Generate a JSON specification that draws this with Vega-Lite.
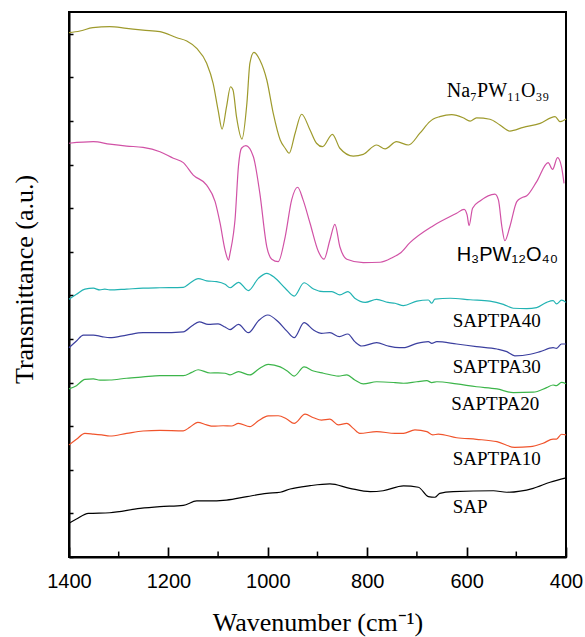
{
  "$schema": "https://vega.github.io/schema/vega-lite/v6.json",
  "width": 497,
  "height": 545,
  "autosize": {"type": "none"},
  "padding": {"left": 69, "top": 12, "right": 19, "bottom": 80},
  "background": "white",
  "config": {
    "view": {"stroke": "black", "strokeWidth": 2},
    "axis": {"domainColor": "black", "domainWidth": 2, "tickColor": "black", "grid": false, "labelColor": "black", "titleColor": "black", "titleFontWeight": "normal"}
  },
  "datasets": {
    "spectra": [
      {"s":"Na","w":1400,"v":24.05},{"s":"Na","w":1378,"v":24.13},{"s":"Na","w":1352,"v":24.28},{"s":"Na","w":1318,"v":24.33},{"s":"Na","w":1284,"v":24.25},{"s":"Na","w":1251,"v":24.17},{"s":"Na","w":1217,"v":24.10},{"s":"Na","w":1183,"v":23.82},{"s":"Na","w":1163,"v":23.67},{"s":"Na","w":1143,"v":23.33},{"s":"Na","w":1123,"v":22.65},{"s":"Na","w":1110,"v":21.73},{"s":"Na","w":1100,"v":20.50},{"s":"Na","w":1092,"v":19.63},{"s":"Na","w":1083,"v":20.66},{"s":"Na","w":1075,"v":21.57},{"s":"Na","w":1070,"v":21.42},{"s":"Na","w":1063,"v":20.20},{"s":"Na","w":1052,"v":19.17},{"s":"Na","w":1042,"v":20.83},{"s":"Na","w":1036,"v":22.65},{"s":"Na","w":1028,"v":23.15},{"s":"Na","w":1016,"v":22.80},{"s":"Na","w":1002,"v":21.88},{"s":"Na","w":989,"v":20.35},{"s":"Na","w":975,"v":19.13},{"s":"Na","w":965,"v":18.75},{"s":"Na","w":957,"v":18.52},{"s":"Na","w":945,"v":19.44},{"s":"Na","w":932,"v":20.31},{"s":"Na","w":915,"v":19.59},{"s":"Na","w":902,"v":18.98},{"s":"Na","w":890,"v":18.82},{"s":"Na","w":870,"v":19.39},{"s":"Na","w":855,"v":18.75},{"s":"Na","w":828,"v":18.39},{"s":"Na","w":808,"v":18.47},{"s":"Na","w":781,"v":18.90},{"s":"Na","w":764,"v":18.72},{"s":"Na","w":741,"v":19.05},{"s":"Na","w":717,"v":18.90},{"s":"Na","w":694,"v":19.44},{"s":"Na","w":674,"v":19.97},{"s":"Na","w":667,"v":20.09},{"s":"Na","w":654,"v":20.20},{"s":"Na","w":630,"v":20.29},{"s":"Na","w":607,"v":20.15},{"s":"Na","w":593,"v":19.99},{"s":"Na","w":580,"v":20.14},{"s":"Na","w":553,"v":20.08},{"s":"Na","w":533,"v":19.82},{"s":"Na","w":513,"v":19.54},{"s":"Na","w":486,"v":19.71},{"s":"Na","w":452,"v":19.89},{"s":"Na","w":422,"v":20.20},{"s":"Na","w":412,"v":19.97},{"s":"Na","w":400,"v":20.09},
      {"s":"H3","w":1400,"v":18.98},{"s":"H3","w":1351,"v":19.05},{"s":"H3","w":1318,"v":18.94},{"s":"H3","w":1284,"v":18.85},{"s":"H3","w":1251,"v":18.79},{"s":"H3","w":1217,"v":18.59},{"s":"H3","w":1190,"v":18.29},{"s":"H3","w":1170,"v":18.09},{"s":"H3","w":1150,"v":17.52},{"s":"H3","w":1123,"v":17.06},{"s":"H3","w":1106,"v":16.30},{"s":"H3","w":1096,"v":15.31},{"s":"H3","w":1086,"v":14.08},{"s":"H3","w":1079,"v":13.62},{"s":"H3","w":1076,"v":13.93},{"s":"H3","w":1069,"v":14.85},{"s":"H3","w":1066,"v":15.46},{"s":"H3","w":1059,"v":17.94},{"s":"H3","w":1053,"v":18.75},{"s":"H3","w":1044,"v":18.87},{"s":"H3","w":1029,"v":18.36},{"s":"H3","w":1016,"v":16.68},{"s":"H3","w":1002,"v":14.23},{"s":"H3","w":992,"v":13.66},{"s":"H3","w":979,"v":13.55},{"s":"H3","w":965,"v":14.69},{"s":"H3","w":952,"v":16.38},{"s":"H3","w":940,"v":16.96},{"s":"H3","w":929,"v":16.38},{"s":"H3","w":915,"v":15.31},{"s":"H3","w":898,"v":14.00},{"s":"H3","w":887,"v":13.66},{"s":"H3","w":875,"v":14.54},{"s":"H3","w":865,"v":15.26},{"s":"H3","w":855,"v":14.23},{"s":"H3","w":841,"v":13.66},{"s":"H3","w":808,"v":13.50},{"s":"H3","w":774,"v":13.52},{"s":"H3","w":748,"v":13.75},{"s":"H3","w":734,"v":13.93},{"s":"H3","w":714,"v":14.42},{"s":"H3","w":667,"v":15.20},{"s":"H3","w":620,"v":15.77},{"s":"H3","w":605,"v":15.95},{"s":"H3","w":599,"v":15.69},{"s":"H3","w":595,"v":15.20},{"s":"H3","w":588,"v":16.00},{"s":"H3","w":573,"v":16.33},{"s":"H3","w":543,"v":16.65},{"s":"H3","w":536,"v":16.38},{"s":"H3","w":529,"v":15.15},{"s":"H3","w":523,"v":14.51},{"s":"H3","w":513,"v":15.15},{"s":"H3","w":499,"v":16.30},{"s":"H3","w":489,"v":16.48},{"s":"H3","w":479,"v":16.57},{"s":"H3","w":459,"v":17.22},{"s":"H3","w":436,"v":18.09},{"s":"H3","w":427,"v":17.78},{"s":"H3","w":417,"v":18.32},{"s":"H3","w":409,"v":17.90},{"s":"H3","w":404,"v":17.14},
      {"s":"S40","w":1400,"v":11.82},{"s":"S40","w":1385,"v":12.05},{"s":"S40","w":1368,"v":12.29},{"s":"S40","w":1351,"v":12.33},{"s":"S40","w":1338,"v":12.25},{"s":"S40","w":1328,"v":12.29},{"s":"S40","w":1318,"v":12.25},{"s":"S40","w":1284,"v":12.29},{"s":"S40","w":1251,"v":12.33},{"s":"S40","w":1217,"v":12.35},{"s":"S40","w":1170,"v":12.37},{"s":"S40","w":1157,"v":12.56},{"s":"S40","w":1140,"v":12.77},{"s":"S40","w":1123,"v":12.67},{"s":"S40","w":1103,"v":12.63},{"s":"S40","w":1086,"v":12.51},{"s":"S40","w":1076,"v":12.35},{"s":"S40","w":1059,"v":12.60},{"s":"S40","w":1039,"v":12.22},{"s":"S40","w":1019,"v":12.78},{"s":"S40","w":1002,"v":13.01},{"s":"S40","w":986,"v":12.81},{"s":"S40","w":965,"v":12.33},{"s":"S40","w":947,"v":11.97},{"s":"S40","w":927,"v":12.58},{"s":"S40","w":908,"v":12.29},{"s":"S40","w":888,"v":12.17},{"s":"S40","w":871,"v":12.17},{"s":"S40","w":855,"v":12.02},{"s":"S40","w":839,"v":12.17},{"s":"S40","w":825,"v":11.87},{"s":"S40","w":804,"v":11.68},{"s":"S40","w":781,"v":11.82},{"s":"S40","w":758,"v":11.68},{"s":"S40","w":744,"v":11.64},{"s":"S40","w":727,"v":11.53},{"s":"S40","w":700,"v":11.74},{"s":"S40","w":677,"v":11.79},{"s":"S40","w":670,"v":11.64},{"s":"S40","w":664,"v":11.83},{"s":"S40","w":633,"v":11.87},{"s":"S40","w":593,"v":11.80},{"s":"S40","w":553,"v":11.74},{"s":"S40","w":526,"v":11.59},{"s":"S40","w":506,"v":11.41},{"s":"S40","w":479,"v":11.39},{"s":"S40","w":459,"v":11.44},{"s":"S40","w":439,"v":11.68},{"s":"S40","w":426,"v":11.76},{"s":"S40","w":419,"v":11.61},{"s":"S40","w":409,"v":11.78},{"s":"S40","w":400,"v":11.68},
      {"s":"S30","w":1400,"v":9.60},{"s":"S30","w":1385,"v":9.91},{"s":"S30","w":1371,"v":10.18},{"s":"S30","w":1351,"v":10.18},{"s":"S30","w":1334,"v":10.11},{"s":"S30","w":1318,"v":10.06},{"s":"S30","w":1284,"v":10.18},{"s":"S30","w":1251,"v":10.29},{"s":"S30","w":1217,"v":10.29},{"s":"S30","w":1170,"v":10.33},{"s":"S30","w":1153,"v":10.60},{"s":"S30","w":1138,"v":10.79},{"s":"S30","w":1120,"v":10.67},{"s":"S30","w":1100,"v":10.69},{"s":"S30","w":1086,"v":10.55},{"s":"S30","w":1076,"v":10.43},{"s":"S30","w":1059,"v":10.67},{"s":"S30","w":1039,"v":10.29},{"s":"S30","w":1019,"v":10.83},{"s":"S30","w":1000,"v":11.10},{"s":"S30","w":979,"v":10.79},{"s":"S30","w":962,"v":10.37},{"s":"S30","w":947,"v":10.06},{"s":"S30","w":927,"v":10.75},{"s":"S30","w":908,"v":10.41},{"s":"S30","w":892,"v":10.26},{"s":"S30","w":875,"v":10.29},{"s":"S30","w":856,"v":10.11},{"s":"S30","w":839,"v":10.23},{"s":"S30","w":825,"v":9.88},{"s":"S30","w":811,"v":9.68},{"s":"S30","w":781,"v":9.83},{"s":"S30","w":758,"v":9.68},{"s":"S30","w":744,"v":9.62},{"s":"S30","w":727,"v":9.60},{"s":"S30","w":700,"v":9.80},{"s":"S30","w":677,"v":9.88},{"s":"S30","w":670,"v":9.80},{"s":"S30","w":660,"v":9.88},{"s":"S30","w":620,"v":9.77},{"s":"S30","w":580,"v":9.65},{"s":"S30","w":539,"v":9.54},{"s":"S30","w":519,"v":9.42},{"s":"S30","w":503,"v":9.23},{"s":"S30","w":472,"v":9.30},{"s":"S30","w":452,"v":9.42},{"s":"S30","w":426,"v":9.60},{"s":"S30","w":419,"v":9.57},{"s":"S30","w":409,"v":9.77},{"s":"S30","w":400,"v":9.77},
      {"s":"S20","w":1400,"v":7.71},{"s":"S20","w":1385,"v":7.86},{"s":"S20","w":1368,"v":8.15},{"s":"S20","w":1351,"v":8.17},{"s":"S20","w":1338,"v":8.11},{"s":"S20","w":1318,"v":8.12},{"s":"S20","w":1284,"v":8.20},{"s":"S20","w":1251,"v":8.26},{"s":"S20","w":1217,"v":8.32},{"s":"S20","w":1170,"v":8.32},{"s":"S20","w":1153,"v":8.47},{"s":"S20","w":1140,"v":8.59},{"s":"S20","w":1116,"v":8.44},{"s":"S20","w":1100,"v":8.45},{"s":"S20","w":1086,"v":8.43},{"s":"S20","w":1076,"v":8.35},{"s":"S20","w":1059,"v":8.50},{"s":"S20","w":1036,"v":8.35},{"s":"S20","w":1019,"v":8.61},{"s":"S20","w":999,"v":8.84},{"s":"S20","w":975,"v":8.72},{"s":"S20","w":959,"v":8.50},{"s":"S20","w":947,"v":8.30},{"s":"S20","w":927,"v":8.72},{"s":"S20","w":908,"v":8.53},{"s":"S20","w":888,"v":8.43},{"s":"S20","w":858,"v":8.30},{"s":"S20","w":841,"v":8.35},{"s":"S20","w":825,"v":8.12},{"s":"S20","w":808,"v":7.94},{"s":"S20","w":781,"v":8.04},{"s":"S20","w":744,"v":8.00},{"s":"S20","w":727,"v":7.97},{"s":"S20","w":700,"v":8.04},{"s":"S20","w":680,"v":8.09},{"s":"S20","w":670,"v":8.00},{"s":"S20","w":660,"v":8.04},{"s":"S20","w":620,"v":7.94},{"s":"S20","w":580,"v":7.81},{"s":"S20","w":539,"v":7.71},{"s":"S20","w":506,"v":7.54},{"s":"S20","w":466,"v":7.56},{"s":"S20","w":439,"v":7.77},{"s":"S20","w":426,"v":7.89},{"s":"S20","w":419,"v":7.86},{"s":"S20","w":409,"v":8.01},{"s":"S20","w":400,"v":7.95},
      {"s":"S10","w":1400,"v":5.14},{"s":"S10","w":1385,"v":5.40},{"s":"S10","w":1368,"v":5.67},{"s":"S10","w":1351,"v":5.64},{"s":"S10","w":1334,"v":5.60},{"s":"S10","w":1318,"v":5.55},{"s":"S10","w":1284,"v":5.67},{"s":"S10","w":1251,"v":5.78},{"s":"S10","w":1217,"v":5.81},{"s":"S10","w":1170,"v":5.79},{"s":"S10","w":1157,"v":5.95},{"s":"S10","w":1141,"v":6.18},{"s":"S10","w":1123,"v":6.06},{"s":"S10","w":1110,"v":6.00},{"s":"S10","w":1090,"v":6.02},{"s":"S10","w":1073,"v":6.01},{"s":"S10","w":1059,"v":6.13},{"s":"S10","w":1036,"v":5.98},{"s":"S10","w":1019,"v":6.25},{"s":"S10","w":999,"v":6.47},{"s":"S10","w":979,"v":6.48},{"s":"S10","w":962,"v":6.33},{"s":"S10","w":947,"v":6.13},{"s":"S10","w":925,"v":6.55},{"s":"S10","w":908,"v":6.39},{"s":"S10","w":892,"v":6.28},{"s":"S10","w":875,"v":6.32},{"s":"S10","w":858,"v":6.06},{"s":"S10","w":841,"v":6.13},{"s":"S10","w":828,"v":5.90},{"s":"S10","w":815,"v":5.67},{"s":"S10","w":781,"v":5.75},{"s":"S10","w":744,"v":5.67},{"s":"S10","w":727,"v":5.67},{"s":"S10","w":704,"v":5.83},{"s":"S10","w":680,"v":5.75},{"s":"S10","w":668,"v":5.60},{"s":"S10","w":657,"v":5.64},{"s":"S10","w":620,"v":5.47},{"s":"S10","w":580,"v":5.40},{"s":"S10","w":539,"v":5.29},{"s":"S10","w":503,"v":5.03},{"s":"S10","w":472,"v":5.06},{"s":"S10","w":446,"v":5.22},{"s":"S10","w":426,"v":5.41},{"s":"S10","w":419,"v":5.41},{"s":"S10","w":409,"v":5.63},{"s":"S10","w":400,"v":5.60},
      {"s":"SAP","w":1400,"v":1.55},{"s":"SAP","w":1385,"v":1.74},{"s":"SAP","w":1361,"v":2.00},{"s":"SAP","w":1318,"v":2.03},{"s":"SAP","w":1257,"v":2.23},{"s":"SAP","w":1217,"v":2.31},{"s":"SAP","w":1170,"v":2.37},{"s":"SAP","w":1143,"v":2.57},{"s":"SAP","w":1123,"v":2.57},{"s":"SAP","w":1083,"v":2.61},{"s":"SAP","w":1042,"v":2.77},{"s":"SAP","w":1002,"v":2.92},{"s":"SAP","w":975,"v":2.97},{"s":"SAP","w":955,"v":3.12},{"s":"SAP","w":915,"v":3.27},{"s":"SAP","w":875,"v":3.35},{"s":"SAP","w":835,"v":3.15},{"s":"SAP","w":794,"v":3.00},{"s":"SAP","w":768,"v":3.04},{"s":"SAP","w":727,"v":3.26},{"s":"SAP","w":697,"v":3.20},{"s":"SAP","w":677,"v":2.77},{"s":"SAP","w":664,"v":2.74},{"s":"SAP","w":654,"v":2.92},{"s":"SAP","w":627,"v":3.00},{"s":"SAP","w":546,"v":3.04},{"s":"SAP","w":519,"v":2.97},{"s":"SAP","w":466,"v":3.15},{"s":"SAP","w":432,"v":3.43},{"s":"SAP","w":400,"v":3.63}
    ],
    "labels": [
      {"label":"Na₇PW₁₁O₃₉","w":640,"v":21.09},
      {"label":"H₃PW₁₂O₄₀","w":620,"v":13.59},
      {"label":"SAPTPA40","w":628,"v":10.55},
      {"label":"SAPTPA30","w":628,"v":8.44},
      {"label":"SAPTPA20","w":631,"v":6.74},
      {"label":"SAPTPA10","w":628,"v":4.22},
      {"label":"SAP","w":628,"v":2.02}
    ],
    "minorTicks": [{"w":1300},{"w":1100},{"w":900},{"w":700},{"w":500}]
  },
  "layer": [
    {
      "data": {"name": "spectra"},
      "mark": {"type": "line", "strokeWidth": 1.2, "interpolate": "monotone"},
      "encoding": {
        "x": {
          "field": "w", "type": "quantitative",
          "scale": {"domain": [400, 1400], "reverse": true, "nice": false, "zero": false},
          "axis": {
            "values": [1400, 1200, 1000, 800, 600, 400],
            "format": "d",
            "tickSize": -10,
            "tickWidth": 1.7,
            "labelFont": "Liberation Sans", "labelFontSize": 20, "labelPadding": 24,
            "labelOverlap": false, "labelFlush": false,
            "title": "Wavenumber (cm⁻¹)", "titleFont": "Liberation Serif", "titleFontSize": 26,
            "titleBaseline": "alphabetic", "titleY": 73
          }
        },
        "y": {
          "field": "v", "type": "quantitative",
          "scale": {"domain": [0, 25], "nice": false, "zero": false},
          "axis": {
            "values": [0,1,2,3,4,5,6,7,8,9,10,11,12,13,14,15,16,17,18,19,20,21,22,23,24,25],
            "labels": false, "tickSize": -4, "tickWidth": 1.5,
            "title": "Transmittance (a.u.)", "titleFont": "Liberation Serif", "titleFontSize": 26,
            "titleBaseline": "alphabetic", "titleX": -37, "titleY": 267
          }
        },
        "color": {
          "field": "s", "type": "nominal", "legend": null,
          "scale": {"domain": ["Na", "H3", "S40", "S30", "S20", "S10", "SAP"],
                    "range": ["#9e9a2c", "#d152a6", "#22b3b3", "#3b3f9f", "#3cb54a", "#f0542c", "#000000"]}
        },
        "detail": {"field": "s"}
      }
    },
    {
      "data": {"name": "minorTicks"},
      "mark": {"type": "rule", "color": "black", "strokeWidth": 1.5},
      "encoding": {
        "x": {"field": "w", "type": "quantitative"},
        "y": {"datum": 0},
        "y2": {"datum": 0.25}
      }
    },
    {
      "data": {"name": "labels"},
      "transform": [{"filter": {"field": "label", "oneOf": ["SAPTPA40", "SAPTPA30", "SAPTPA20", "SAPTPA10", "SAP"]}}],
      "mark": {"type": "text", "font": "Liberation Serif", "fontSize": 19, "align": "left", "baseline": "alphabetic", "color": "black"},
      "encoding": {
        "x": {"field": "w", "type": "quantitative"},
        "y": {"field": "v", "type": "quantitative"},
        "text": {"field": "label"}
      }
    },
    {
      "data": {"name": "labels"},
      "transform": [{"filter": {"field": "label", "oneOf": ["Na₇PW₁₁O₃₉"]}}],
      "mark": {"type": "text", "font": "Liberation Serif", "fontSize": 20, "align": "left", "baseline": "alphabetic", "color": "black"},
      "encoding": {
        "x": {"field": "w", "type": "quantitative"},
        "y": {"field": "v", "type": "quantitative"},
        "text": {"field": "label"}
      }
    },
    {
      "data": {"name": "labels"},
      "transform": [{"filter": {"field": "label", "oneOf": ["H₃PW₁₂O₄₀"]}}],
      "mark": {"type": "text", "font": "Liberation Sans", "fontSize": 20, "align": "left", "baseline": "alphabetic", "color": "black"},
      "encoding": {
        "x": {"field": "w", "type": "quantitative"},
        "y": {"field": "v", "type": "quantitative"},
        "text": {"field": "label"}
      }
    }
  ]
}
